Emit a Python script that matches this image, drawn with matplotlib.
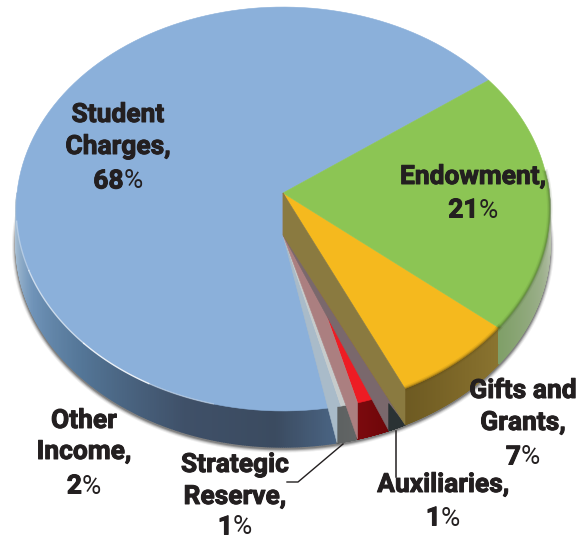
import numpy as np
import matplotlib
matplotlib.use('Agg')
import matplotlib.pyplot as plt
import matplotlib.patheffects as pe
from matplotlib.collections import PolyCollection
from matplotlib.colors import to_rgb

# Revenue sources, percent of total, clockwise from the top right
categories = ['Endowment', 'Gifts and Grants', 'Auxiliaries',
              'Strategic Reserve', 'Other Income', 'Student Charges']
shares = [21, 7, 1, 1, 2, 68]

START_DEG = 36.0
CX, CY = 283.0, 193.0      # hub of the top face
AX_U, AX_V, PERSP = 266.0, 200.7, 0.0792
DEPTH = 36.0
HUB_DROP = 42.0
RECESS_DEG = 3.0           # the recessed floor shifts the red edge sideways

TEXT_COL = '#231f20'
FONT = 'Roboto'
BOLDER = [pe.withStroke(linewidth=0.7, foreground=TEXT_COL)]


def rim(theta_deg, drop=0.0):
    """Point on the tilted disc edge for a pie angle, in figure pixels."""
    t = np.radians(theta_deg)
    u, v = np.cos(t), -np.sin(t)
    w = 1 - PERSP * v
    return np.column_stack([np.atleast_1d(CX + AX_U * u / w),
                            np.atleast_1d(CY + AX_V * v / w + drop)])


def arc(a, b, drop=0.0, n=120):
    return rim(np.linspace(a, b, n), drop)


def fill(ax, pts, color, z, **kw):
    ax.fill(*np.vstack(pts).T, facecolor=color, edgecolor=color,
            linewidth=0.4, zorder=z, **kw)


def ramp(stops, x):
    pos = [s[0] for s in stops]
    cols = np.array([to_rgb(s[1]) for s in stops])
    return [tuple(np.interp(x_i, pos, cols[:, k]) for k in range(3)) for x_i in x]


def side_wall(ax, a, b, stops, z, n=240):
    """Outer wall between two angles, shaded along the arc."""
    th = np.linspace(a, b, n + 1)
    top, low = rim(th), rim(th, DEPTH)
    quads = [[top[i], top[i + 1], low[i + 1], low[i]] for i in range(n)]
    cols = ramp(stops, np.linspace(0, 1, n))
    ax.add_collection(PolyCollection(quads, facecolors=cols, edgecolors=cols,
                                     linewidths=1.0, zorder=z))


def label(ax, x, ys, lines, pct, size=19.0):
    for y, line in zip(ys, lines):
        ax.text(x, y, line, ha='center', va='center', fontsize=size, color=TEXT_COL,
                family=FONT, fontweight='bold', zorder=10, path_effects=BOLDER)
    # the number is bold and the percent sign regular, centred as one piece
    rend = ax.figure.canvas.get_renderer()
    num = ax.text(0, ys[-1], pct, ha='left', va='center_baseline', fontsize=size,
                  color=TEXT_COL, family=FONT, fontweight='bold', zorder=10,
                  path_effects=BOLDER)
    sign = ax.text(0, ys[-1], '%', ha='left', va='center_baseline', fontsize=size,
                   color=TEXT_COL, family=FONT, zorder=10)
    w1 = num.get_window_extent(rend).width
    w2 = sign.get_window_extent(rend).width
    num.set_x(x - (w1 + w2) / 2)
    sign.set_x(x - (w1 + w2) / 2 + w1)


edges = START_DEG - 3.6 * np.concatenate([[0], np.cumsum(shares)])
a_green, a_yellow, a_aux, a_res, a_other = edges[1:6]
a_red = a_res - RECESS_DEG

fig = plt.figure(figsize=(5.87, 5.39), dpi=100)
ax = fig.add_axes([0, 0, 1, 1])
ax.set_xlim(0, 587)
ax.set_ylim(539, 0)
ax.axis('off')

apex = np.array([[CX, CY]])
hub_low = np.array([[CX, CY + HUB_DROP]])

# soft drop shadow under the outer wall
shadow = arc(8, -195, DEPTH + 1.5)
for lw, al in [(6, 0.10), (4.5, 0.18), (3, 0.35), (1.6, 0.45)]:
    ax.plot(*shadow.T, color='#555555', lw=lw, alpha=al, zorder=1,
            solid_capstyle='round')

# outer walls, left to right along the front
side_wall(ax, -180, a_other, [
    (0.0, '#c3d0db'), (0.10, '#a3bcd2'), (0.25, '#6f93b8'), (0.45, '#537596'),
    (0.70, '#3f5068'), (0.88, '#3b4b60'), (1.0, '#4a6483')], 2)
side_wall(ax, a_other, a_red, [(0, '#5d6161'), (1, '#626565')], 2)
side_wall(ax, a_red, a_aux, [(0, '#7c0a0e'), (1, '#6e0609')], 2)
side_wall(ax, a_aux, a_yellow, [(0, '#2a3234'), (1, '#2a3234')], 2)
side_wall(ax, a_yellow, a_green, [(0, '#6d5a22'), (0.5, '#7d6728'), (1, '#8a7430')], 2)
side_wall(ax, a_green, 4, [(0, '#7f9f68'), (0.5, '#9db08c'), (1, '#c4c9bc')], 2)

# the three large top faces
fill(ax, [apex, arc(START_DEG, a_other + 360), hub_low], '#8bb0da', 3)
fill(ax, [apex, arc(a_green, a_yellow)], '#f5b91e', 3)
fill(ax, [apex, arc(START_DEG, a_green)], '#8cc554', 3)

# recessed fan of the small slices
gray_mid, gray_end = a_other + 0.8, a_other + 1.8
fill(ax, [hub_low, rim(a_other, DEPTH), arc(a_other, gray_mid)], '#a9bbc9', 4)
fill(ax, [hub_low, arc(gray_mid, gray_end)], '#c6cbcb', 4)
fill(ax, [apex, arc(a_red, a_aux)], '#ed1c24', 4)
fill(ax, [hub_low, rim(gray_end), rim(a_red, DEPTH), rim(a_red), apex], '#ab7f80', 4)
fill(ax, [hub_low, rim(a_aux, DEPTH), rim(a_aux, 9), rim(a_yellow, DEPTH)], '#7a686c', 5)
fill(ax, [rim(a_aux, 9), rim(a_aux, DEPTH), rim(a_yellow, DEPTH)], '#2a3234', 5)

# cut face of the gifts slice
fill(ax, [apex, rim(a_yellow), rim(a_yellow, DEPTH), hub_low], '#8a7a40', 6)

# dark rim just inside the front of the yellow and green faces
for lw, al in [(4, 0.10), (2.2, 0.18), (1, 0.25)]:
    ax.plot(*arc(a_green, a_yellow, 0, 40).T, color='#5a4510', lw=lw, alpha=al, zorder=5)
    ax.plot(*arc(6, a_green, 0, 40).T, color='#3f5f25', lw=lw, alpha=al, zorder=5)

# light catching the front edge of the blue face
for t0, t1, al in [(-172, -158, 0.35), (-158, -135, 0.6), (-135, -118, 0.85), (-118, -104, 0.35)]:
    ax.plot(*arc(t0, t1, 0, 40).T, color='white', lw=1.0, alpha=al, zorder=5)

# leader lines for the two thin slices
ax.plot([343, 298, 287], [444, 482, 482], color='#231f20', lw=1.0, zorder=9)
ax.plot([396, 396], [431, 477], color='#231f20', lw=1.1, zorder=9)

label(ax, 118, [115, 147, 179], ['Student', 'Charges,'], '68')
label(ax, 473, [177, 208], ['Endowment,'], '21')
label(ax, 523, [391, 423, 455], ['Gifts and', 'Grants,'], '7')
label(ax, 443, [485, 516], ['Auxiliaries,'], '1')
label(ax, 235, [465, 497, 525], ['Strategic', 'Reserve,'], '1')
label(ax, 84, [421, 452, 484], ['Other', 'Income,'], '2')

fig.savefig('out.png', dpi=100)
